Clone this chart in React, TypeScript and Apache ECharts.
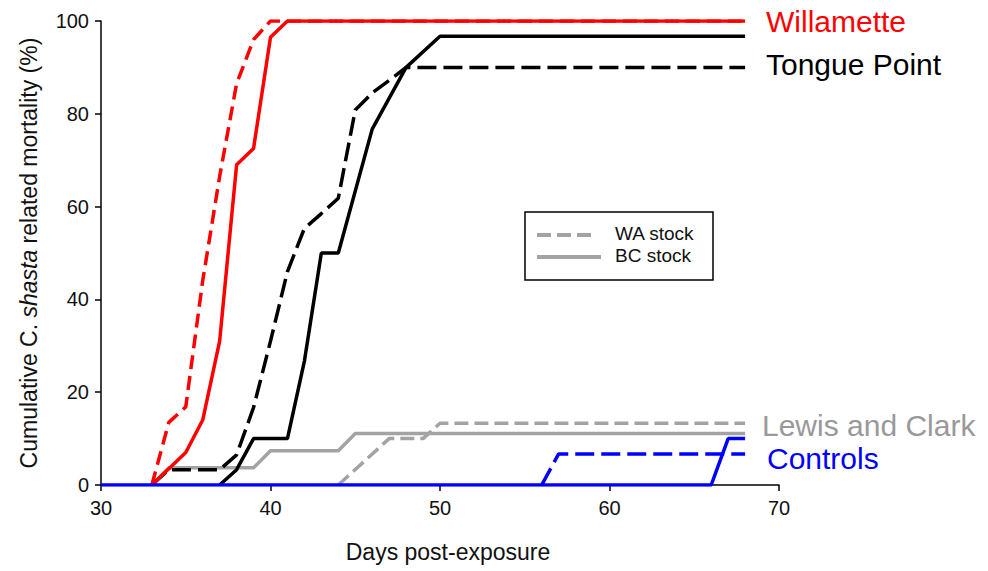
import React, { useEffect, useRef } from "react";
import * as echarts from "echarts";

// Days post-exposure and cumulative mortality (%) per group / stock
const willametteWADays = [33, 34, 35, 36, 37, 38, 39, 40, 68];
const willametteWAVals = [0, 13.5, 16.8, 44, 66.5, 86.5, 96, 100, 100];

const willametteBCDays = [33, 34, 35, 36, 37, 38, 39, 40, 41, 68];
const willametteBCVals = [0, 3.5, 7, 14, 31, 69, 72.5, 96.5, 100, 100];

const tonguePointWADays = [33, 34, 35, 36, 37, 38, 39, 40, 41, 42, 43, 44, 45, 46, 47, 48, 68];
const tonguePointWAVals = [0, 3.3, 3.3, 3.3, 3.3, 6.5, 16.7, 31, 46, 55.3, 58.5, 61.8, 80.8, 84.5, 87.2, 90, 90];

const tonguePointBCDays = [37, 38, 39, 40, 41, 42, 43, 44, 46, 48, 50, 68];
const tonguePointBCVals = [0, 3.3, 10, 10, 10, 26.7, 50, 50, 76.7, 90, 96.7, 96.7];

const lewisClarkWADays = [44, 47, 49, 50, 68];
const lewisClarkWAVals = [0, 10, 10, 13.3, 13.3];

const lewisClarkBCDays = [33, 34, 39, 40, 44, 45, 68];
const lewisClarkBCVals = [0, 3.7, 3.7, 7.4, 7.4, 11.1, 11.1];

const controlsWADays = [56, 57, 68];
const controlsWAVals = [0, 6.7, 6.7];

const controlsBCDays = [30, 66, 67, 68];
const controlsBCVals = [0, 0, 10, 10];

const xTicks = [30, 40, 50, 60, 70];
const yTicks = [0, 20, 40, 60, 80, 100];

const groupLabels = ["Willamette", "Tongue Point", "Lewis and Clark", "Controls"];
const legendLabels = ["WA stock", "BC stock"];

const RED = "#ff0000";
const BLACK = "#000000";
const GRAY = "#a3a3a3";
const BLUE = "#0000ff";
const FONT = '"Liberation Sans", Arial, sans-serif';

const pairs = (d: number[], v: number[]) => d.map((x, i) => [x, v[i]]);

export default function App() {
  const ref = useRef<HTMLDivElement>(null);
  useEffect(() => {
    if (!ref.current) return;
    const chart = echarts.init(ref.current, undefined, { renderer: "svg" });

    const line = (name: string, data: number[][], color: string, dashed: number[] | null, z: number) => ({
      name,
      type: "line",
      data,
      showSymbol: false,
      symbol: "none",
      z,
      lineStyle: { color, width: 3.5, type: dashed ? dashed : "solid" },
      emphasis: { disabled: true },
    });

    chart.setOption({
      animation: false,
      backgroundColor: "#ffffff",
      grid: { left: 101, top: 21, width: 678, height: 464 },
      xAxis: {
        type: "value",
        min: xTicks[0],
        max: xTicks[xTicks.length - 1],
        interval: 10,
        name: "Days post-exposure",
        nameLocation: "middle",
        nameGap: 55,
        nameTextStyle: { fontFamily: FONT, fontSize: 23, color: "#111", padding: [0, 0, 0, 16] },
        axisLine: { lineStyle: { color: "#000", width: 1.5 } },
        axisTick: { show: true, inside: false, length: 6, lineStyle: { color: "#000", width: 1.5 } },
        axisLabel: { fontFamily: FONT, fontSize: 20, color: "#111", margin: 13 },
        splitLine: { show: false },
      },
      yAxis: {
        type: "value",
        min: yTicks[0],
        max: yTicks[yTicks.length - 1],
        interval: 20,
        name: "{n|Cumulative C. }{i|shasta}{n| related mortality (%)}",
        nameLocation: "middle",
        nameGap: 61,
        nameRotate: 90,
        nameTextStyle: {
          fontFamily: FONT,
          fontSize: 23,
          color: "#111",
          rich: {
            n: { fontFamily: FONT, fontSize: 23, color: "#111" },
            i: { fontFamily: FONT, fontSize: 23, color: "#111", fontStyle: "italic" },
          },
        },
        axisLine: { show: true, lineStyle: { color: "#000", width: 1.5 } },
        axisTick: { show: true, inside: false, length: 6, lineStyle: { color: "#000", width: 1.5 } },
        axisLabel: { fontFamily: FONT, fontSize: 20, color: "#111", margin: 12 },
        splitLine: { show: false },
      },
      series: [
        line("Lewis and Clark WA", pairs(lewisClarkWADays, lewisClarkWAVals), GRAY, [14, 6], 2),
        line("Lewis and Clark BC", pairs(lewisClarkBCDays, lewisClarkBCVals), GRAY, null, 2),
        line("Tongue Point WA", pairs(tonguePointWADays, tonguePointWAVals), BLACK, [19, 7], 3),
        line("Tongue Point BC", pairs(tonguePointBCDays, tonguePointBCVals), BLACK, null, 3),
        line("Willamette WA", pairs(willametteWADays, willametteWAVals), RED, [14, 7], 4),
        line("Willamette BC", pairs(willametteBCDays, willametteBCVals), RED, null, 4),
        line("Controls WA", pairs(controlsWADays, controlsWAVals), BLUE, [19, 7], 5),
        line("Controls BC", pairs(controlsBCDays, controlsBCVals), BLUE, null, 6),
      ],
      graphic: [
        { type: "text", left: 766, top: 6, style: { text: groupLabels[0], fill: RED, font: `30px ${FONT}` } },
        { type: "text", left: 766, top: 49, style: { text: groupLabels[1], fill: BLACK, font: `30px ${FONT}` } },
        { type: "text", left: 762, top: 410, style: { text: groupLabels[2], fill: "#999999", font: `30px ${FONT}` } },
        { type: "text", left: 767, top: 443, style: { text: groupLabels[3], fill: BLUE, font: `30px ${FONT}` } },
        {
          type: "rect",
          shape: { x: 525, y: 212, width: 188, height: 68 },
          style: { fill: "#ffffff", stroke: "#000", lineWidth: 1.5 },
          z: 10,
        },
        {
          type: "line",
          shape: { x1: 537, y1: 235, x2: 593, y2: 235 },
          style: { stroke: GRAY, lineWidth: 4, lineDash: [14, 6] },
          z: 11,
        },
        {
          type: "line",
          shape: { x1: 537, y1: 257, x2: 601, y2: 257 },
          style: { stroke: GRAY, lineWidth: 4 },
          z: 11,
        },
        { type: "text", left: 615, top: 224, style: { text: legendLabels[0], fill: "#111", font: `19px ${FONT}` }, z: 11 },
        { type: "text", left: 615, top: 246, style: { text: legendLabels[1], fill: "#111", font: `19px ${FONT}` }, z: 11 },
      ],
    });
    return () => chart.dispose();
  }, []);
  return <div ref={ref} style={{ position: "absolute", left: 0, top: 0, width: 988, height: 571 }} />;
}
